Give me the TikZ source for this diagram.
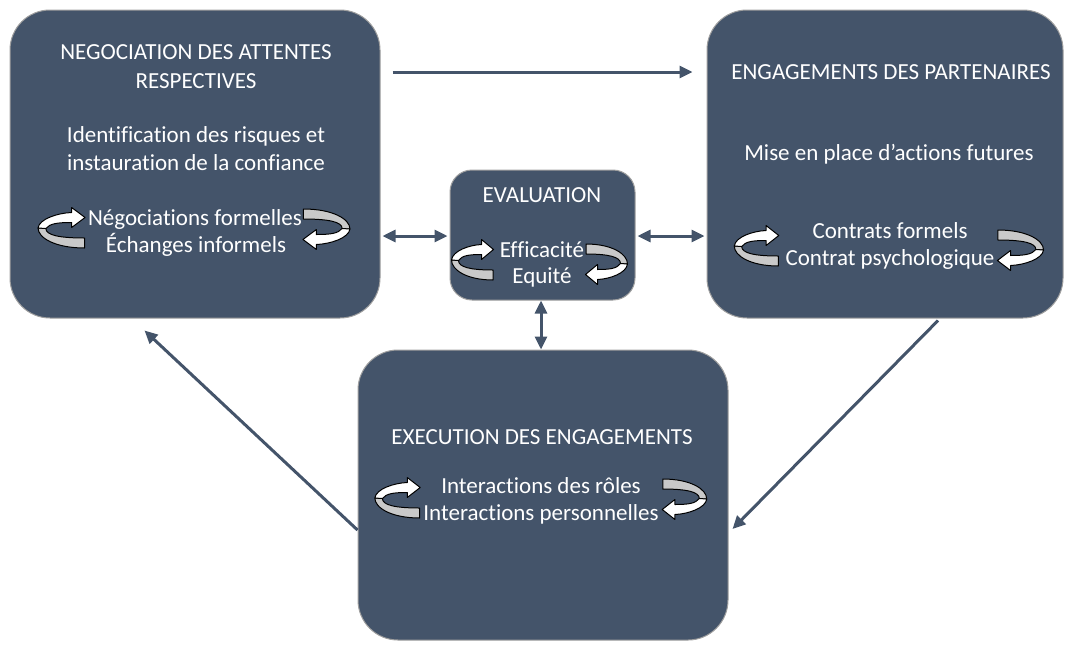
\documentclass[tikz,border=0pt]{standalone}
\usepackage{fontspec}
\setmainfont[Ligatures={NoCommon}]{Carlito}
\usetikzlibrary{arrows.meta,calc}
\definecolor{slate}{HTML}{44546A}
\definecolor{ribgray}{HTML}{C9C9C9}
\tikzset{
  box/.style={draw=gray!75, line width=1pt, fill=slate, rounded corners=40pt, inner sep=0pt},
  txt/.style={text=white, anchor=base, inner sep=0pt, font=\fontsize{23}{27}\selectfont},
  arr/.style={draw=slate, line width=3pt, -{Triangle[length=13pt,width=12pt]}},
  darr/.style={draw=slate, line width=3pt, {Triangle[length=13pt,width=12pt]}-{Triangle[length=13pt,width=12pt]}},
  loopicon/.pic={
    \filldraw[fill=ribgray, draw=black, line width=1pt, line join=round]
      (-20.5,0) .. controls (-20.5,10) and (-5,20) .. (21,20) -- (21,10)
      .. controls (-2,10) and (-13.5,7) .. (-13.5,0.5) -- cycle;
    \filldraw[fill=white, draw=black, line width=1pt, line join=round]
      (9.5,-15.5) .. controls (-3,-15) and (-19.5,-9) .. (-20.5,0) -- (-13.5,0.5)
      .. controls (-10,-4.5) and (-3,-5.5) .. (9.5,-5.5) -- (9.5,-0.5) -- (21.5,-10.5)
      -- (9.5,-20.5) -- cycle;
  }
}
\begin{document}
\begin{tikzpicture}[x=1pt,y=-1pt]
\useasboundingbox (0,0) rectangle (1067,646);
% boxes
\node[box, minimum width=370pt, minimum height=308pt] (nego) at (195,164) {};
\node[box, minimum width=356pt, minimum height=308pt] (enga) at (885,164) {};
\node[box, rounded corners=22pt, minimum width=185pt, minimum height=130pt] (eval) at (542.5,235) {};
\node[box, minimum width=370pt, minimum height=290pt] (exec) at (543,495) {};
% texts box 1
\node[txt] (n1) at (196,59) {NEGOCIATION DES ATTENTES};
\node[txt] (n2) at (196,88) {RESPECTIVES};
\node[txt] (n3) at (196,142) {Identification des risques et};
\node[txt] (n4) at (196,170) {instauration de la confiance};
\node[txt] (n5) at (195,225) {Négociations formelles};
\node[txt] (n6) at (196,252) {Échanges informels};
% texts box 2
\node[txt] (e1) at (891,79) {ENGAGEMENTS DES PARTENAIRES};
\node[txt] (e2) at (889,160) {Mise en place d’actions futures};
\node[txt] (e3) at (890,238) {Contrats formels};
\node[txt] (e4) at (890,265) {Contrat psychologique};
% texts eval
\node[txt] (v1) at (542,202) {EVALUATION};
\node[txt] (v2) at (542,257) {Efficacité};
\node[txt] (v3) at (542,283) {Equité};
% texts exec
\node[txt] (x1) at (542,444) {EXECUTION DES ENGAGEMENTS};
\node[txt] (x2) at (541,493) {Interactions des rôles};
\node[txt] (x3) at (541,520) {Interactions personnelles};
% loop icons
\pic[xscale=1.12] at (61,228) {loopicon};
\pic[xscale=1.12, rotate=180] at (327,229) {loopicon};
\pic[xscale=1.06] at (756,246) {loopicon};
\pic[xscale=1.1, rotate=180] at (1021,250) {loopicon};
\pic at (472,260) {loopicon};
\pic[rotate=180] at (607,264) {loopicon};
\pic[xscale=1.08] at (397,498) {loopicon};
\pic[xscale=1.06, rotate=180] at (685,499) {loopicon};
% connectors
\draw[arr, shorten <=12pt, shorten >=14pt] (nego.east |- 0,72) -- (enga.west |- 0,72);
\draw[darr, shorten <=2pt, shorten >=2pt] (nego.east |- 0,236) -- (eval.west |- 0,236);
\draw[darr, shorten <=2pt, shorten >=2pt] (eval.east |- 0,236) -- (enga.west |- 0,236);
\draw[darr] (eval.south -| 541,0) -- (exec.north -| 541,0);
\draw[arr] ($(enga.south)+(53,2)$) -- ($(exec.east)+(4,34)$);
\draw[arr] ($(exec.west)+(0,35)$) -- ($(nego.south west)+(135,12)$);
\end{tikzpicture}
\end{document}
